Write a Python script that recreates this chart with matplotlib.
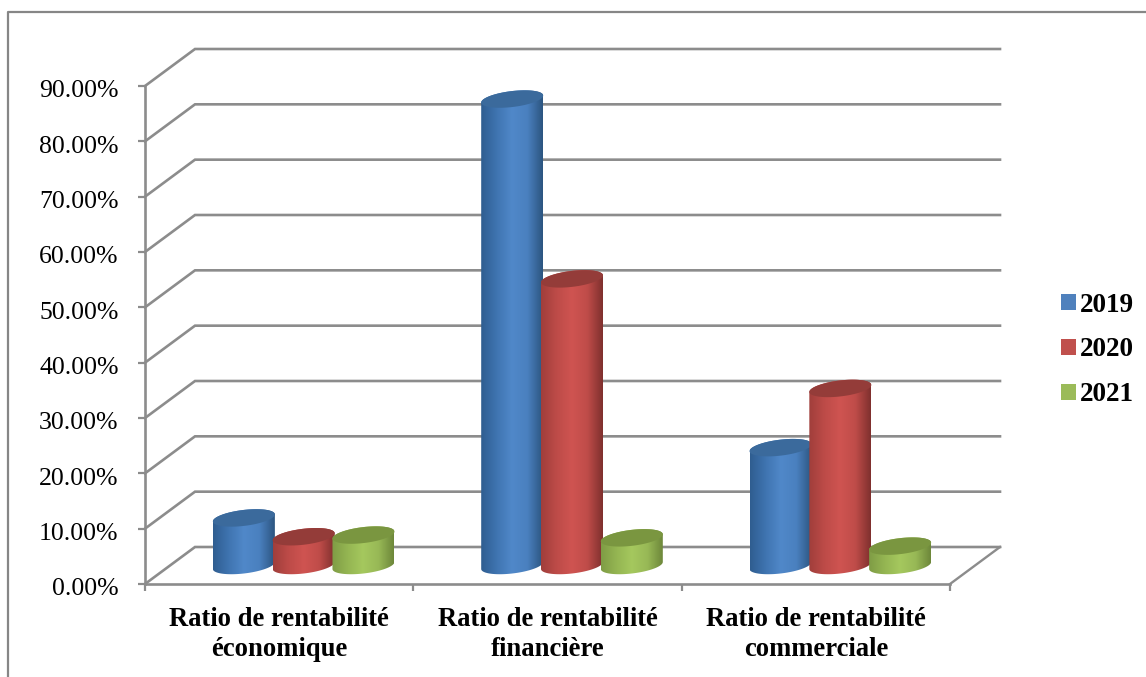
import numpy as np
import matplotlib.pyplot as plt
from matplotlib.colors import LinearSegmentedColormap
from matplotlib.patches import Patch, PathPatch
from matplotlib.path import Path
from matplotlib.transforms import ScaledTranslation

plt.rcParams['font.family'] = ['Liberation Serif', 'DejaVu Serif']

# données
categories = ['Ratio de rentabilité\néconomique', 'Ratio de rentabilité\nfinancière',
              'Ratio de rentabilité\ncommerciale']
years = ['2019', '2020', '2021']
r2019 = [8.6, 84.3, 21.3]
r2020 = [5.2, 51.8, 32.0]
r2021 = [5.5, 5.0, 3.5]
y_ticks = [0, 10, 20, 30, 40, 50, 60, 70, 80, 90]
y_labels = ['0.00%', '10.00%', '20.00%', '30.00%', '40.00%', '50.00%',
            '60.00%', '70.00%', '80.00%', '90.00%']

W, H = 1146, 677
LEFT, RIGHT, TOP, BOTTOM = 145, 950, 86, 584
px_x = (RIGHT - LEFT) / 3        # pixels par catégorie
px_y = (BOTTOM - TOP) / 90       # pixels par point de pourcentage
depth_x = 50 / px_x
depth_y = 37 / px_y
GREY = '#8c8c8c'

# couleurs des cylindres : bord gauche, milieu, bord droit, dessus
shades = [
    ['#2f5d90', '#3f74b0', '#5088c9', '#4a80bf', '#2c5580', '#3b6a9c'],
    ['#a03e3b', '#bd4b48', '#cf5451', '#bf4c49', '#7f302e', '#943c39'],
    ['#7f9c45', '#94b552', '#a5c85e', '#98b956', '#6d873a', '#7a9640'],
]
flat = ['#4f81bd', '#c0504d', '#9bbb59']

fig = plt.figure(figsize=(W / 100, H / 100), dpi=100)
ax = fig.add_axes([LEFT / W, 1 - BOTTOM / H, (RIGHT - LEFT) / W, (BOTTOM - TOP) / H])


def ellipse(cx, cy, t):
    # ellipse inclinée, le côté droit est plus haut que le côté gauche
    x = cx + (31 * np.cos(t)) / px_x
    y = cy + (3.5 * np.cos(t) + 8 * np.sin(t)) / px_y
    return np.column_stack([x, y])


def cylinder(cx, value, colors):
    base = depth_y / 2
    top = base + value
    lower = ellipse(cx, base, np.linspace(np.pi, 2 * np.pi, 50))
    upper = ellipse(cx, top, np.linspace(0, np.pi, 50))
    body = np.vstack([lower, upper, lower[:1]])
    patch = PathPatch(Path(body), facecolor='none', edgecolor='none', transform=ax.transData)
    ax.add_patch(patch)
    cmap = LinearSegmentedColormap.from_list('c', colors[:5])
    half = 31 / px_x
    im = ax.imshow(np.linspace(0, 1, 256).reshape(1, -1), cmap=cmap, aspect='auto',
                   extent=[cx - half, cx + half, base - 2, top + 2], zorder=3)
    im.set_clip_path(patch)
    patch.set_zorder(3)
    cap = ellipse(cx, top, np.linspace(0, 2 * np.pi, 100))
    ax.fill(cap[:, 0], cap[:, 1], color=colors[5], lw=0, zorder=3)


# parois : lignes de grille sur le fond et le côté gauche
for y in y_ticks:
    ax.plot([0, depth_x, 3 + depth_x], [y, y + depth_y, y + depth_y], color=GREY, lw=1.9,
            clip_on=False, zorder=1, solid_joinstyle='miter')
ax.plot([3, 3 + depth_x], [0, depth_y], color=GREY, lw=1.7, clip_on=False, zorder=1)

# cylindres, série par série
step = 59.8 / px_x
for j, values in enumerate([r2019, r2020, r2021]):
    for i, v in enumerate(values):
        cylinder(i + 0.5 + depth_x / 2 + (j - 1) * step - 0.5 / px_x, v, shades[j])

ax.set_xlim(0, 3)
ax.set_ylim(0, 90)
ax.spines['top'].set_visible(False)
ax.spines['right'].set_visible(False)
for side in ['left', 'bottom']:
    ax.spines[side].set_color(GREY)
    ax.spines[side].set_linewidth(1.9)
    ax.spines[side].set_zorder(2)

ax.set_yticks(y_ticks, y_labels)
ax.tick_params(axis='y', length=5, width=1.6, color=GREY, pad=14, labelsize=18.5, labelcolor='black')
down = ScaledTranslation(0, -2 / 72 * 1.0, fig.dpi_scale_trans)
for lab in ax.get_yticklabels():
    lab.set_transform(lab.get_transform() + down)
ax.set_xticks([0, 1, 2, 3], ['', '', '', ''])
ax.tick_params(axis='x', which='major', length=5, width=1.6, color=GREY)
ax.set_xticks([0.5, 1.5, 2.5], categories, minor=True)
ax.tick_params(axis='x', which='minor', length=0, pad=16.5, labelsize=19.2)
for lab in ax.get_xticklabels(minor=True):
    lab.set_fontweight('bold')
    lab.set_linespacing(1.28)

# légende
handles = [Patch(facecolor=c, edgecolor='none', label=y) for c, y in zip(flat, years)]
fig.legend(handles=handles, loc='center left', bbox_to_anchor=(1061 / W, 1 - 350 / H),
           frameon=False, prop={'family': 'Liberation Serif', 'weight': 'bold', 'size': 19.6},
           handlelength=0.54, handleheight=0.54, handletextpad=0.14,
           labelspacing=0.73, borderpad=0, borderaxespad=0)

# cadre extérieur
fig.add_artist(plt.Line2D([8 / W, 8 / W, 1], [0, 1 - 12 / H, 1 - 12 / H], color='#868686', lw=1.6))

fig.savefig('out.png', dpi=100)
